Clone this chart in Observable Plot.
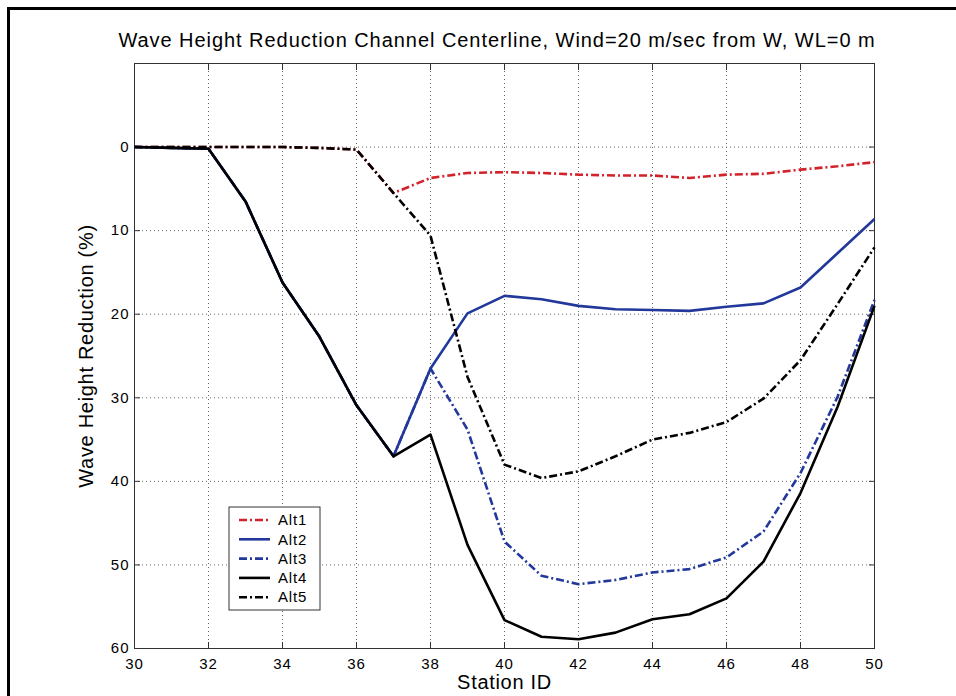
<!DOCTYPE html>
<html><head><meta charset="utf-8">
<script src="https://cdn.jsdelivr.net/npm/d3@7"></script>
<script src="https://cdn.jsdelivr.net/npm/@observablehq/plot@0.6"></script>
<style>
body{margin:0;background:#fff;overflow:hidden;width:956px;height:696px;font-family:"Liberation Sans",Arial,sans-serif;}
#border{position:absolute;left:7px;top:7px;width:1100px;height:1100px;border:3px solid #000;}
#chart{position:relative;}
#title{height:55px;box-sizing:border-box;padding:28px 0 0 38px;font-size:20px;line-height:24px;letter-spacing:0.95px;text-align:center;color:#000;white-space:nowrap;}
svg{display:block;}
g[aria-label="x-axis tick label"], g[aria-label="y-axis tick label"]{font-size:15px !important;}
g[aria-label="x-axis tick label"] text, g[aria-label="y-axis tick label"] text{letter-spacing:1px;font-size:15px !important;}
g[aria-label="text"] text{letter-spacing:0.7px;}
.legend text{letter-spacing:0.8px;}
</style></head><body>
<div id="border"></div>
<div id="chart"><div id="title">Wave Height Reduction Channel Centerline, Wind=20 m/sec from W, WL=0 m</div></div>
<script>
const stations = [30,31,32,33,34,35,36,37,38,39,40,41,42,43,44,45,46,47,48,49,50];
const alt1 = [0,0,0,0,0,0.1,0.3,5.5,3.7,3.1,3.0,3.1,3.3,3.4,3.4,3.7,3.3,3.2,2.7,2.3,1.8];
const alt2 = [0,0.1,0.2,6.5,16.2,22.7,30.9,37.0,26.5,19.9,17.8,18.2,19.0,19.4,19.5,19.6,19.1,18.7,16.8,12.7,8.6];
const alt3 = [0,0.1,0.2,6.5,16.2,22.7,30.9,37.0,26.5,33.8,47.2,51.3,52.3,51.8,50.9,50.5,49.1,46.0,39.0,29.9,18.3];
const alt4 = [0,0.1,0.2,6.5,16.2,22.7,30.9,37.0,34.4,47.6,56.6,58.6,58.9,58.1,56.5,55.9,54.0,49.6,41.4,31.1,19.0];
const alt5 = [0,0,0,0,0,0.1,0.3,5.5,10.6,27.5,38.0,39.6,38.8,37.0,35.0,34.2,32.9,30.1,25.5,18.8,12.0];
const seriesNames = ["Alt1","Alt2","Alt3","Alt4","Alt5"];
const seriesValues = [alt1, alt2, alt3, alt4, alt5];
const seriesColors = ["#d2222a","#22389a","#22389a","#000000","#000000"];
const seriesDash = ["8,3,2,3", null, "8,3,2,3", null, "8,3,2,3"];
const xTicks = [30,32,34,36,38,40,42,44,46,48,50];
const yTicks = [0,10,20,30,40,50,60];

const rows = [];
seriesNames.forEach((name, k) => stations.forEach((s, i) => rows.push({station: s, value: seriesValues[k][i], series: name})));

const font = '"Liberation Sans", Arial, sans-serif';

function legend(index, scales, values, dim) {
  const g = d3.create("svg:g").attr("class", "legend");
  const left = dim.marginLeft + 95, top = dim.marginTop + 444;
  const w = 91, rowH = 19.3, h = 103;
  g.append("rect").attr("x", left).attr("y", top).attr("width", w).attr("height", h)
    .attr("fill", "#fff").attr("stroke", "#333").attr("stroke-width", 1);
  seriesNames.forEach((name, k) => {
    const y = top + 13 + k * rowH;
    g.append("line").attr("x1", left + 10).attr("x2", left + 41).attr("y1", y).attr("y2", y)
      .attr("stroke", seriesColors[k]).attr("stroke-width", 2.6)
      .attr("stroke-dasharray", seriesDash[k]);
    g.append("text").attr("x", left + 49).attr("y", y).attr("dy", "0.35em")
      .attr("text-anchor", "start")
      .attr("font-size", 15).attr("font-family", font).attr("fill", "#000").text(name);
  });
  return g.node();
}

const marks = [
  Plot.gridX(xTicks.slice(1, -1), {stroke: "#666", strokeOpacity: 1, strokeWidth: 1, strokeDasharray: "1,3"}),
  Plot.gridY(yTicks.slice(0, -1), {stroke: "#666", strokeOpacity: 1, strokeWidth: 1, strokeDasharray: "1,3"}),
  Plot.axisX(xTicks, {anchor: "bottom", tickSize: 0, tickPadding: 10, fontSize: 15, label: null}),
  Plot.axisY(yTicks, {anchor: "left", tickSize: 0, tickPadding: 5, fontSize: 15, label: null}),
  Plot.axisX(xTicks, {anchor: "bottom", tickSize: -6, tickFormat: () => "", label: null, stroke: "#333"}),
  Plot.axisX(xTicks, {anchor: "top", tickSize: -6, tickFormat: () => "", label: null, stroke: "#333"}),
  Plot.axisY(yTicks, {anchor: "left", tickSize: -6, tickFormat: () => "", label: null, stroke: "#333"}),
  Plot.axisY(yTicks, {anchor: "right", tickSize: -6, tickFormat: () => "", label: null, stroke: "#333"}),
  Plot.frame({stroke: "#333", strokeWidth: 1})
];
seriesNames.forEach((name, k) => {
  marks.push(Plot.line(rows.filter(d => d.series === name), {
    x: "station", y: "value", stroke: seriesColors[k], strokeWidth: 2.6,
    strokeDasharray: seriesDash[k], strokeLinejoin: "round", strokeLinecap: "butt"
  }));
});
marks.push(legend);
marks.push(Plot.text(["Station ID"], {frameAnchor: "bottom", textAnchor: "middle", dy: 40, fontSize: 20, fill: "#000"}));
marks.push(Plot.text(["Wave Height Reduction (%)"], {frameAnchor: "left", textAnchor: "middle", dx: -48, rotate: -90, fontSize: 20, fill: "#000"}));

const chart = Plot.plot({
  width: 956, height: 641,
  marginTop: 8, marginBottom: 48, marginLeft: 134, marginRight: 82,
  style: {fontFamily: font, fontSize: "15px", color: "#000", background: "transparent", overflow: "visible"},
  x: {domain: [30, 50]},
  y: {domain: [-10, 60], reverse: true},
  marks
});
document.getElementById("chart").appendChild(chart);
</script>
</body></html>
